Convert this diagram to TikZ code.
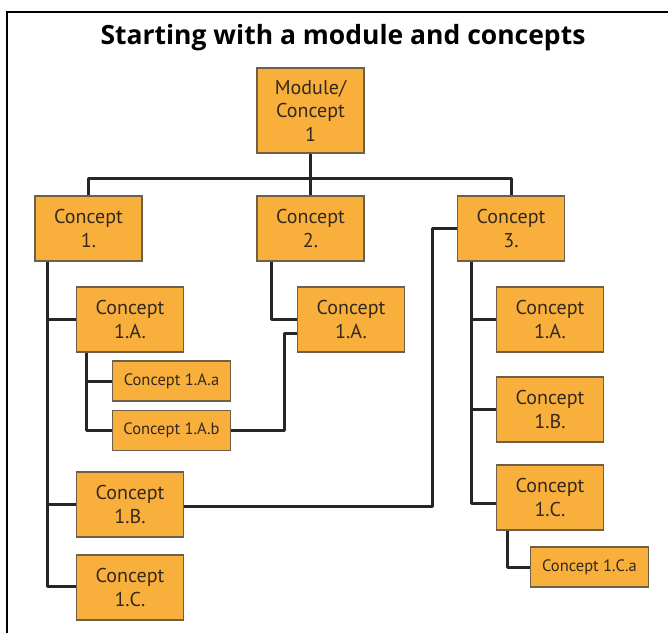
\documentclass[tikz,border=0pt]{standalone}
\usepackage{fontspec}
\setmainfont{PT Sans}
\newfontfamily\titlefont{Open Sans}
\definecolor{boxfill}{HTML}{F9AF3B}
\definecolor{boxline}{HTML}{6E5F48}
\definecolor{boxtext}{HTML}{33291F}
\definecolor{linkcol}{HTML}{262626}
\tikzset{
  concept/.style={draw=boxline, fill=boxfill, line width=1.3pt, text=boxtext, align=center,
    minimum width=107pt, minimum height=65pt, inner sep=0pt, font=\fontsize{20}{23.5}\selectfont},
  subconcept/.style={concept, minimum width=118pt, minimum height=40pt, font=\fontsize{16.5}{20}\selectfont},
  link/.style={draw=linkcol, line width=3pt, line join=round},
}
\begin{document}
\begin{tikzpicture}[x=1pt, y=-1pt]
    \useasboundingbox (0,0) rectangle (668,632);
    \draw[line width=2.6pt] (7,12) rectangle (700,680); % frame runs off the right and bottom
    \node[font=\titlefont\bfseries\fontsize{26.5}{30}\selectfont] (title) at (343,38) {Starting with a module and concepts};

    \node[concept, minimum height=85pt] (mod) at (310.5,110.5) {Module/\\Concept\\1};
    \node[concept] (c1) at (88.5,228.5) {Concept\\1.};
    \node[concept] (c2) at (310.5,228.5) {Concept\\2.};
    \node[concept] (c3) at (511,228.5) {Concept\\3.};

    \node[concept] (c1a) at (130,319.5) {Concept\\1.A.};
    \node[subconcept] (c1aa) at (171.5,381) {Concept 1.A.a};
    \node[subconcept] (c1ab) at (171.5,430.5) {Concept 1.A.b};
    \node[concept] (c1b) at (130,504.5) {Concept\\1.B.};
    \node[concept] (c1c) at (130,587.5) {Concept\\1.C.};

    \node[concept] (c2a) at (351,319.5) {Concept\\1.A.};

    \node[concept] (c3a) at (550,319.5) {Concept\\1.A.};
    \node[concept] (c3b) at (550,409.5) {Concept\\1.B.};
    \node[concept] (c3c) at (550,497.5) {Concept\\1.C.};
    \node[subconcept] (c3ca) at (589.5,567) {Concept 1.C.a};

    % top bus
    \coordinate (bus) at (310.5,178);
    \draw[link] (mod) -- (c2);
    \draw[link] (c1.north) |- (bus) -| (c3.north);

    % left column
    \draw[link] ([xshift=13pt]c1.south west) |- (c1a.west);
    \draw[link] ([xshift=13pt]c1.south west) |- (c1b.west);
    \draw[link] ([xshift=13pt]c1.south west) |- ([yshift=1.5pt]c1c.west);
    \draw[link] ([xshift=11pt]c1a.south west) |- (c1aa.west);
    \draw[link] ([xshift=11pt]c1a.south west) |- (c1ab.west);

    % middle column
    \draw[link] ([xshift=15pt]c2.south west) |- (c2a.west);
    \draw[link] (c1ab.east) -| ([xshift=-12pt,yshift=-14pt]c2a.west) -- ([yshift=-14pt]c2a.west);

    % right column
    \coordinate (jog) at (432,228.5);
    \draw[link] (c3.west) -- (jog) |- ([yshift=-1.5pt]c1b.east);
    \draw[link] ([xshift=15pt]c3.south west) |- (c3a.west);
    \draw[link] ([xshift=15pt]c3.south west) |- (c3b.west);
    \draw[link] ([xshift=15pt]c3.south west) |- ([yshift=-6pt]c3c.west);
    \draw[link] ([xshift=12pt]c3c.south west) |- (c3ca.west);
\end{tikzpicture}
\end{document}
